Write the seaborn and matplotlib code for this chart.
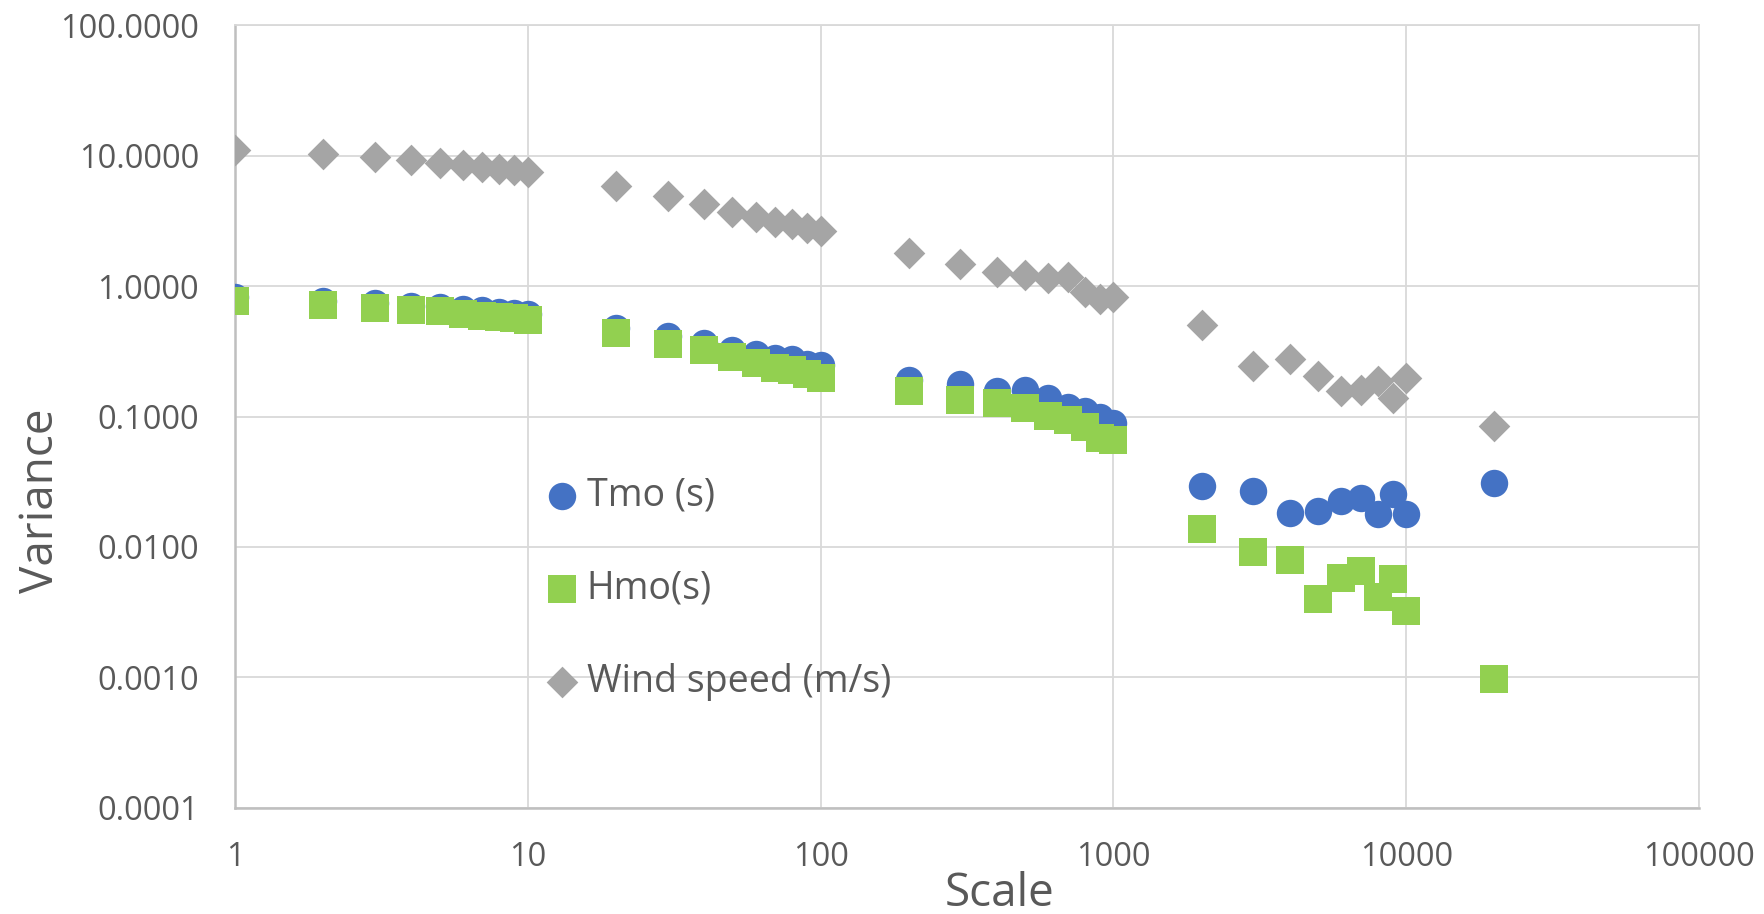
import numpy as np
import pandas as pd
import matplotlib
matplotlib.use("Agg")
import matplotlib.pyplot as plt
import seaborn as sns
from matplotlib.ticker import FixedLocator, FuncFormatter, NullLocator

# ---------------------------------------------------------------------
# Data
# ---------------------------------------------------------------------
scale = [1, 2, 3, 4, 5, 6, 7, 8, 9, 10,
         20, 30, 40, 50, 60, 70, 80, 90, 100,
         200, 300, 400, 500, 600, 700, 800, 900, 1000,
         2000, 3000, 4000, 5000, 6000, 7000, 8000, 9000, 10000,
         20000]

tmo = [0.82, 0.766, 0.735, 0.705, 0.689, 0.661, 0.650, 0.631, 0.617, 0.605,
       0.479, 0.413, 0.367, 0.325, 0.299, 0.282, 0.277, 0.254, 0.248,
       0.191, 0.179, 0.156, 0.160, 0.139, 0.119, 0.110, 0.0998, 0.089,
       0.0292, 0.0269, 0.0182, 0.0189, 0.0224, 0.0236, 0.0178, 0.0255, 0.0178,
       0.031]

hmo = [0.769, 0.712, 0.684, 0.658, 0.638, 0.613, 0.593, 0.579, 0.569, 0.548,
       0.433, 0.360, 0.324, 0.284, 0.255, 0.237, 0.226, 0.210, 0.198,
       0.158, 0.133, 0.127, 0.117, 0.1016, 0.0935, 0.083, 0.069, 0.0657,
       0.0138, 0.0092, 0.0079, 0.00403, 0.0058, 0.0066, 0.00415, 0.00567, 0.00326,
       0.00098]

wind = [11.1, 10.2, 9.7, 9.2, 8.8, 8.5, 8.2, 7.9, 7.7, 7.5,
        5.86, 4.91, 4.26, 3.70, 3.37, 3.09, 2.97, 2.76, 2.64,
        1.78, 1.47, 1.27, 1.21, 1.15, 1.18, 0.905, 0.80, 0.82,
        0.503, 0.243, 0.276, 0.204, 0.157, 0.161, 0.187, 0.138, 0.199,
        0.084]

series_names = ["Tmo (s)", "Hmo(s)", "Wind speed (m/s)"]
x_ticks = [1, 10, 100, 1000, 10000, 100000]
y_ticks = [0.0001, 0.001, 0.01, 0.1, 1, 10, 100]

# ---------------------------------------------------------------------
# Style
# ---------------------------------------------------------------------
sns.set_style("white")
plt.rcParams["font.family"] = ["Open Sans", "DejaVu Sans"]
TEXT = "#595959"
GRID = "#D9D9D9"
AXIS = "#BFBFBF"

df = pd.DataFrame({"scale": scale, "Tmo (s)": tmo, "Hmo(s)": hmo,
                   "Wind speed (m/s)": wind})

fig = plt.figure(figsize=(17.64, 9.14), dpi=100)
ax = fig.add_axes([0.1332, 0.1160, 0.8300, 0.8566])

styles = {
    "Tmo (s)": dict(color="#4472C4", marker="o", s=390),
    "Hmo(s)": dict(color="#92D050", marker="s", s=390),
    "Wind speed (m/s)": dict(color="#A5A5A5", marker="D", s=260),
}
for name in series_names:
    sns.scatterplot(data=df, x="scale", y=name, ax=ax, label=name,
                    linewidth=0, zorder=3, **styles[name])

ax.set_xscale("log")
ax.set_yscale("log")
ax.set_xlim(1, 100000)
ax.set_ylim(0.0001, 100)

ax.xaxis.set_major_locator(FixedLocator(x_ticks))
ax.yaxis.set_major_locator(FixedLocator(y_ticks))
ax.xaxis.set_minor_locator(NullLocator())
ax.yaxis.set_minor_locator(NullLocator())
ax.xaxis.set_major_formatter(FuncFormatter(lambda v, p: f"{v:g}"))
ax.yaxis.set_major_formatter(FuncFormatter(lambda v, p: f"{v:.4f}"))
ax.tick_params(axis="both", length=0, labelsize=23.5, labelcolor=TEXT)
ax.tick_params(axis="y", pad=26)
ax.tick_params(axis="x", pad=24)

ax.grid(True, color=GRID, linewidth=1.3, zorder=0)
ax.set_axisbelow(True)
for side in ["left", "bottom"]:
    ax.spines[side].set_color(AXIS)
    ax.spines[side].set_linewidth(1.8)
for side in ["top", "right"]:
    ax.spines[side].set_color(GRID)
    ax.spines[side].set_linewidth(1.3)

ax.set_xlabel("Scale", fontsize=33, color=TEXT)
ax.set_ylabel("Variance", fontsize=33, color=TEXT)
ax.xaxis.set_label_coords(0.522, -0.080)
ax.yaxis.set_label_coords(-0.117, 0.392)

ax.legend(loc="upper left", bbox_to_anchor=(0.216, 0.423), frameon=False,
          fontsize=27, labelcolor=TEXT, handlelength=0.6, handletextpad=0.35,
          labelspacing=1.47, borderpad=0, borderaxespad=0, markerscale=1)

fig.savefig("out.png", dpi=100)
plt.close(fig)
